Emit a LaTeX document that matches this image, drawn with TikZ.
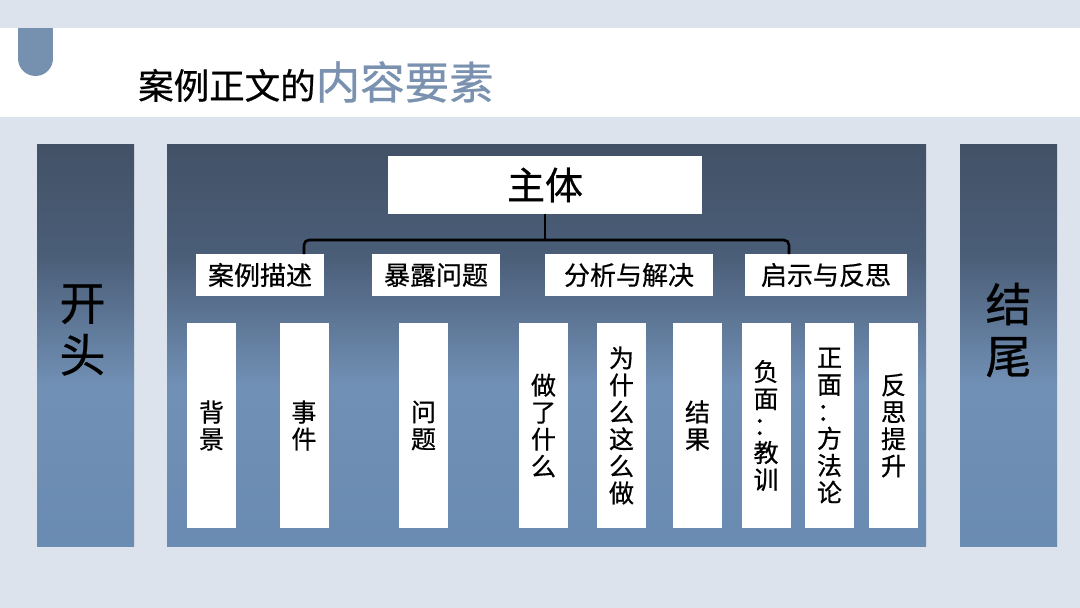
\documentclass[tikz,border=0pt]{standalone}
\usepackage{fontspec}
\newfontfamily\cjk[FakeBold=0.6]{Noto Sans CJK SC}
\usetikzlibrary{positioning}
\definecolor{bgc}{HTML}{DCE3EC}
\definecolor{tabc}{HTML}{7690B0}
\definecolor{titc}{HTML}{7A92B0}
\definecolor{ptop}{HTML}{425166}
\definecolor{pupp}{HTML}{4B5E78}
\definecolor{pmid}{HTML}{7190B5}
\definecolor{pbot}{HTML}{6A8BB2}
\pgfdeclareverticalshading{panelshade}{100bp}{color(0bp)=(pbot); color(25bp)=(pbot); color(45bp)=(pmid); color(61bp)=(pupp); color(75bp)=(ptop); color(100bp)=(ptop)}

\begin{document}
\begin{tikzpicture}[x=1pt,y=-1pt,
  panel/.style={shading=panelshade,minimum height=402pt,inner sep=0pt},
  side/.style={panel,minimum width=97pt},
  sidelab/.style={font=\cjk\fontsize{46}{52}\selectfont,align=center,inner sep=0pt},
  headbox/.style={fill=white,minimum width=314pt,minimum height=58pt,inner sep=0pt,font=\cjk\fontsize{38}{38}\selectfont},
  partbox/.style={fill=white,minimum height=42pt,inner sep=0pt,font=\cjk\fontsize{26}{26}\selectfont},
  leaf/.style={fill=white,minimum width=49pt,minimum height=205pt,inner sep=0pt,align=center,font=\cjk\fontsize{25}{27}\selectfont},
  brk/.style={line width=2.6pt,rounded corners=5pt}]
\useasboundingbox (0,0) rectangle (1080,608);
\fill[bgc] (0,0) rectangle (1080,608);
\fill[white] (0,28) rectangle (1080,117);
\fill[tabc] (18,28) rectangle (53,58.5);
\fill[tabc] (35.5,58.5) circle[radius=17.5];
\node[anchor=base west,inner sep=0pt,font=\cjk\fontsize{35.5}{35.5}\selectfont] (title) at (138,99)
  {案例正文的{\color{titc}\fontsize{44.5}{44.5}\selectfont 内容要素}};
\node[side] (open) at (85.5,345) {};
\node[side] (close) at (1008.5,345) {};
\node[panel,minimum width=759pt] (body) at (546.5,345) {};
\node[sidelab] (openlab) at (82.5,330) {开\\头};
\node[sidelab] (closelab) at (1008.5,330) {结\\尾};
\node[headbox] (main) at (545,185) {主体};
\node[partbox,minimum width=128pt] (desc) at (260,275) {案例描述};
\node[partbox,minimum width=128pt] (expo) at (436,275) {暴露问题};
\node[partbox,minimum width=168pt] (anal) at (629,275) {分析与解决};
\node[partbox,minimum width=162pt] (insi) at (826,275) {启示与反思};
\node[leaf] (back) at (211.5,425.5) {背\\景};
\node[leaf] (even) at (304,425.5) {事\\件};
\node[leaf] (prob) at (423.5,425.5) {问\\题};
\node[leaf] (what) at (543.5,425.5) {做\\了\\什\\么};
\node[leaf] (why) at (621.5,425.5) {为\\什\\么\\这\\么\\做};
\node[leaf] (resu) at (697.5,425.5) {结\\果};
\node[leaf] (nega) at (766,425.5) {负\\面\\：\\教\\训};
\node[leaf] (posi) at (829.5,425.5) {正\\面\\：\\方\\法\\论};
\node[leaf] (refl) at (893.5,425.5) {反\\思\\提\\升};
\coordinate (bl) at (304,254);
\coordinate (br) at (789,254);
\draw[brk] (bl) -- ++(0,-14) -| (br);
\draw[brk] (main.south) -- (main.south |- 0,240);
\end{tikzpicture}
\end{document}
